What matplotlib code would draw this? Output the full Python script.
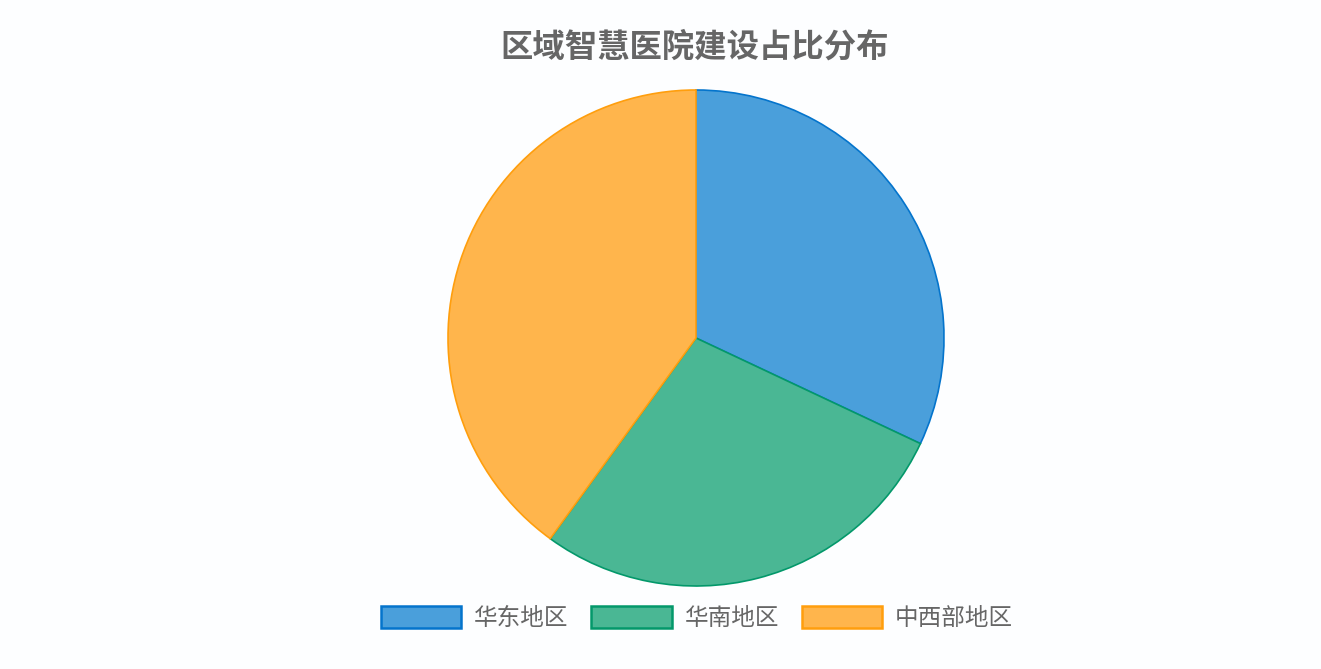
import matplotlib
matplotlib.use("Agg")
import matplotlib.pyplot as plt

plt.rcParams['font.family'] = ['Noto Sans CJK SC', 'DejaVu Sans']

# data
regions = ['华东地区', '华南地区', '中西部地区']
shares = [32, 28, 40]
fill_colors = ['#4A9FDB', '#4AB794', '#FFB54C']
edge_colors = ['#0474CC', '#03986A', '#FF9E0D']

W, H = 1321, 669
fig = plt.figure(figsize=(W / 100, H / 100), dpi=100, facecolor='#FDFEFF')

# pie centre (696, 338) px, radius 248 px
cx, cy, r = 696, 338, 248
ax = fig.add_axes([(cx - r) / W, (H - cy - r) / H, 2 * r / W, 2 * r / H])
ax.set_facecolor('none')

wedges, _ = ax.pie(shares, colors=fill_colors, startangle=90, counterclock=False,
                   radius=1.0, wedgeprops=dict(linewidth=1.2, clip_on=False))
for w, ec in zip(wedges, edge_colors):
    w.set_edgecolor(ec)
ax.set_xlim(-1, 1)
ax.set_ylim(-1, 1)
ax.set_aspect('equal')
ax.axis('off')

fig.text(695 / W, 1 - 47 / H, '区域智慧医院建设占比分布', ha='center', va='center',
         fontsize=23.3, fontweight='bold', color='#666666')

leg = fig.legend(wedges, regions, loc='center', bbox_to_anchor=(697 / W, 1 - 618 / H),
                 ncol=3, frameon=False, fontsize=17, labelcolor='#666666',
                 handlelength=3.4, handleheight=1.05, handletextpad=0.55,
                 columnspacing=0.95)
for h in leg.legend_handles:
    h.set_linewidth(1.8)

fig.savefig('out.png', dpi=100, facecolor=fig.get_facecolor())
